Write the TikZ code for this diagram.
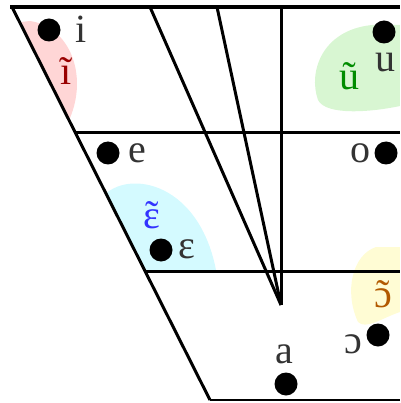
\documentclass[tikz,border=0pt]{standalone}
\usepackage{fontspec}
\setmainfont{Liberation Serif}
\definecolor{pinkarea}{HTML}{FFD6D6}
\definecolor{greenarea}{HTML}{D8F6D2}
\definecolor{cyanarea}{HTML}{D4FAFF}
\definecolor{yellowarea}{HTML}{FFFCD4}
\newcommand{\nasalized}[1]{\ooalign{#1\cr\hidewidth\char"02DC\hidewidth\cr}}
\begin{document}
\begin{tikzpicture}[x=1pt, y=-1pt,
    edge/.style={line width=3pt},
    vowel/.style={circle, fill=black, inner sep=0pt, minimum size=23pt},
    sym/.style={font=\fontsize{40}{40}\selectfont, text=black!80, inner sep=0pt, anchor=base},
    nasal/.style={sym, text=#1}
]
    \useasboundingbox (0,0) rectangle (400,403);
    % corners of the chart
    \coordinate (tl) at (12,7);
    \coordinate (tr) at (400,7);
    \coordinate (ml) at (76,133);
    \coordinate (mr) at (400,133);
    \coordinate (ll) at (145,271);
    \coordinate (lr) at (400,271);
    \coordinate (bl) at (210,400);
    \coordinate (br) at (400,400);
    \coordinate (ta) at (150,7);
    \coordinate (tb) at (217,7);
    \coordinate (tc) at (281,7);
    \coordinate (apex) at (281,305);

    % coloured areas of the nasal vowels
    \begin{scope}
        \clip (tl) -- (tr) -- (br) -- (bl) -- cycle;
        \fill[pinkarea] (12,23) -- (30,21) .. controls (70,27) and (88,75) .. (70,118) -- (12,118) -- cycle;
        \fill[greenarea] (400,25) -- (372,25) .. controls (322,30) and (308,72) .. (318,100)
            .. controls (326,116) and (372,112) .. (400,106) -- cycle;
        \fill[cyanarea] (100,200) .. controls (122,168) and (198,178) .. (216,270) -- (100,270) -- cycle;
        \fill[yellowarea] (400,247) -- (376,247) .. controls (352,255) and (344,292) .. (358,322)
            .. controls (366,330) and (382,318) .. (400,312) -- cycle;
    \end{scope}

    % chart lines
    \draw[edge, line width=4pt] (10,7) -- (tr);
    \draw[edge] (tl) -- (bl);
    \draw[edge] (ml) -- (mr);
    \draw[edge] (ll) -- (lr);
    \draw[edge, line width=2.5pt] (bl) -- (br);
    \draw[edge] (tc) -- (apex);
    \draw[edge] (ta) -- (apex);
    \draw[edge] (tb) -- (apex);

    % vowels
    \node[vowel] (di) at (49,30) {};
    \node[sym] (li) at (81,43) {i};
    \node[nasal=red!60!black] (ni) at (66,85) {ĩ};
    \node[vowel] (du) at (384,32) {};
    \node[sym] (lu) at (385,72) {u};
    \node[nasal=green!55!black] (nu) at (349,90) {ũ};
    \node[vowel] (de) at (108,153) {};
    \node[sym] (le) at (137,163) {e};
    \node[vowel] (do) at (386,153) {};
    \node[sym] (lo) at (360,163) {o};
    \node[vowel] (deps) at (161,250) {};
    \node[sym] (leps) at (187,258) {ɛ};
    \node[nasal=blue!80] (neps) at (152,228) {\nasalized{ɛ}};
    \node[nasal=orange!70!black] (nopo) at (383,307) {\nasalized{ɔ}};
    \node[vowel] (dopo) at (378,335) {};
    \node[sym] (lopo) at (353,353) {ɔ};
    \node[sym] (la) at (284,363) {a};
    \node[vowel] (da) at (286,384) {};
\end{tikzpicture}
\end{document}
